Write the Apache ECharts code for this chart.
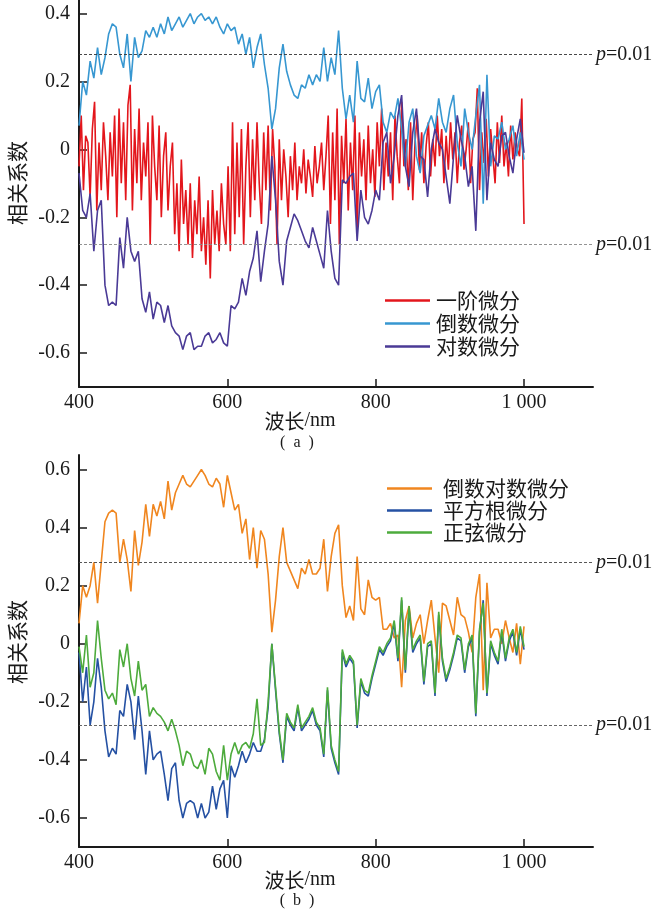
<!DOCTYPE html>
<html>
<head>
<meta charset="utf-8">
<script src="https://cdn.jsdelivr.net/npm/echarts@6/dist/echarts.min.js"></script>
<style>html,body{margin:0;padding:0;background:#fff}#c{width:656px;height:911px}</style>
</head>
<body>
<div id="c"></div>
<script>
// wavelength grids (nm)
const wavelengths = [];           // 400..1000 step 5
for (let w = 400; w <= 1000; w += 5) wavelengths.push(w);
const wavelengthsFine = [];       // 400..1000 step 3 (一阶微分)
for (let w = 400; w <= 1000; w += 3) wavelengthsFine.push(w);

const xTicks = [400, 600, 800, 1000];
const yTicksTop = [-0.6, -0.4, -0.2, 0, 0.2, 0.4];
const yTicksBottom = [-0.6, -0.4, -0.2, 0, 0.2, 0.4, 0.6];
const pLevel = 0.28;

const namesTop = ['一阶微分', '倒数微分', '对数微分'];
const namesBottom = ['倒数对数微分', '平方根微分', '正弦微分'];

// (a) 一阶微分 (step 3 nm)
const firstDeriv = [
 -0.05, 0.1, -0.12, 0.04, 0.02, -0.14, 0.06, 0.14, -0.18, 0.02,
 -0.12, 0.08, -0.02, -0.15, 0.05, -0.08, 0.1, -0.2, 0.12, -0.1,
 0.08, -0.15, 0.13, 0.19, -0.18, 0.06, -0.1, 0.12, -0.15, 0.02,
 -0.08, 0.08, -0.28, 0.1, -0.05, -0.15, 0.07, -0.2, -0.02, 0.05,
 -0.18, -0.05, 0.02, -0.25, -0.1, -0.3, -0.03, -0.22, -0.12, -0.28,
 -0.1, -0.32, -0.15, -0.25, -0.08, -0.3, -0.2, -0.34, -0.15, -0.38,
 -0.12, -0.28, -0.18, -0.3, -0.1, -0.22, -0.28, -0.05, -0.3, 0.08,
 -0.25, 0.02, -0.2, 0.06, -0.28, -0.05, 0.08, -0.2, 0.03, -0.15,
 0.08, -0.1, -0.22, 0.05, -0.12, 0.07, -0.18, 0.06, -0.05, -0.28,
 0.03, -0.15, 0.0, -0.08, -0.2, -0.02, -0.12, 0.02, -0.15, -0.05,
 -0.1, 0.0, -0.13, -0.03, -0.08, -0.14, 0.01, -0.1, -0.05, 0.02,
 -0.12, -0.02, 0.1, -0.22, 0.05, -0.15, 0.12, -0.28, 0.04, -0.1,
 0.09, -0.18, 0.02, -0.12, 0.1, -0.25, 0.05, -0.08, 0.03, -0.15,
 0.07, -0.1, 0.0, -0.14, 0.08, -0.05, 0.12, -0.12, 0.02, -0.08,
 0.05, -0.15, 0.1, -0.02, -0.1, 0.14, -0.05, 0.03, -0.12, 0.08,
 -0.15, 0.02, 0.1, -0.06, 0.05, -0.1, 0.01, 0.08, -0.08, 0.03,
 -0.05, 0.1, -0.02, 0.06, -0.1, 0.04, -0.06, 0.08, -0.03, 0.05,
 -0.1, 0.02, 0.07, -0.06, 0.0, 0.08, -0.1, 0.03, 0.05, 0.18,
 -0.12, 0.05, -0.04, 0.09, -0.08, 0.06, -0.02, -0.1, 0.08, -0.04,
 0.1, -0.05, 0.02, -0.08, 0.07, -0.03, 0.05, 0.0, -0.02, 0.15,
 -0.22
];
// (a) 倒数微分
const reciprocalDeriv = [
 0.07, 0.2, 0.16, 0.26, 0.21, 0.3, 0.22, 0.27, 0.34, 0.37,
 0.36, 0.28, 0.24, 0.34, 0.2, 0.33, 0.27, 0.29, 0.35, 0.33,
 0.36, 0.33, 0.37, 0.34, 0.39, 0.35, 0.37, 0.39, 0.36, 0.38,
 0.4, 0.37, 0.39, 0.4, 0.38, 0.39, 0.37, 0.39, 0.36, 0.34,
 0.37, 0.35, 0.36, 0.31, 0.34, 0.28, 0.33, 0.24, 0.3, 0.34,
 0.25, 0.18, 0.06, 0.12, 0.24, 0.31, 0.23, 0.19, 0.16, 0.15,
 0.19, 0.18, 0.22, 0.19, 0.22, 0.2, 0.3, 0.2, 0.27, 0.22,
 0.35, 0.18, 0.09, 0.16, 0.08, 0.26, 0.15, 0.14, 0.21, 0.12,
 0.17, 0.19, 0.08, 0.05, 0.11, 0.09, 0.15, 0.06, -0.05, 0.08,
 0.12, -0.02, -0.07, 0.04, 0.07, 0.1, 0.06, 0.15, 0.08, 0.05,
 0.12, 0.16, 0.02, -0.05, 0.12, 0.05, 0.0, 0.1, 0.19, -0.16,
 0.22, -0.05, 0.04, 0.03, 0.08, 0.0, 0.03, 0.07, -0.02, 0.05,
 -0.03
];
// (a) 对数微分
const logDeriv = [
 -0.07, -0.18, -0.2, -0.13, -0.3, -0.18, -0.15, -0.4, -0.46, -0.45,
 -0.46, -0.26, -0.35, -0.2, -0.3, -0.33, -0.3, -0.44, -0.48, -0.42,
 -0.5, -0.45, -0.46, -0.51, -0.46, -0.52, -0.54, -0.55, -0.59, -0.55,
 -0.54, -0.59, -0.58, -0.58, -0.55, -0.54, -0.57, -0.56, -0.54, -0.57,
 -0.58, -0.46, -0.47, -0.45, -0.38, -0.43, -0.36, -0.32, -0.24, -0.39,
 -0.3, -0.22, -0.02, -0.15, -0.33, -0.4, -0.27, -0.23, -0.19, -0.21,
 -0.24, -0.27, -0.29, -0.23, -0.27, -0.31, -0.35, -0.18, -0.3, -0.38,
 -0.4, -0.09, -0.1, -0.08, -0.07, -0.27, -0.12, -0.2, -0.22, -0.18,
 -0.12, -0.15, 0.02, 0.05, -0.1, -0.02, 0.1, 0.16, -0.05, -0.11,
 0.05, 0.12, -0.02, -0.03, -0.14, 0.0, 0.06, 0.02, 0.0, -0.08,
 -0.16, -0.02, 0.1, 0.03, -0.02, -0.11, -0.05, -0.24, 0.08, 0.17,
 -0.15, 0.02, -0.03, -0.05, 0.04, 0.05, -0.02, -0.07, 0.03, 0.09,
 -0.01
];
// (b) 倒数对数微分
const recipLogDeriv = [
 0.07, 0.2, 0.16, 0.2, 0.28, 0.14, 0.28, 0.42, 0.45, 0.46,
 0.45, 0.28, 0.36, 0.29, 0.18, 0.39, 0.27, 0.35, 0.48, 0.37,
 0.48, 0.44, 0.49, 0.43, 0.56, 0.46, 0.52, 0.55, 0.58, 0.55,
 0.54, 0.56, 0.58, 0.6, 0.58, 0.55, 0.54, 0.57, 0.55, 0.47,
 0.58, 0.52, 0.46, 0.48, 0.38, 0.43, 0.29, 0.4, 0.26, 0.39,
 0.36, 0.24, 0.04, 0.15, 0.3, 0.4, 0.28, 0.25, 0.22, 0.19,
 0.26, 0.24, 0.29, 0.24, 0.24, 0.26, 0.36, 0.18, 0.3, 0.38,
 0.41, 0.2, 0.09, 0.13, 0.08, 0.3, 0.12, 0.1, 0.22, 0.16,
 0.15, 0.16, 0.05, 0.05, 0.07, 0.02, 0.03, -0.15, 0.08, 0.13,
 0.02, 0.07, 0.1, 0.0, 0.08, 0.15, 0.02, -0.1, 0.14, 0.13,
 0.08, 0.03, 0.16, 0.1, 0.09, 0.04, -0.03, 0.16, 0.24, -0.16,
 0.21, 0.02, 0.05, 0.05, 0.0, 0.08, 0.02, -0.03, 0.07, -0.07,
 0.06
];
// (b) 平方根微分
const sqrtDeriv = [
 -0.03, -0.2, -0.08, -0.28, -0.2, -0.05, -0.15, -0.3, -0.39, -0.36,
 -0.38, -0.23, -0.25, -0.14, -0.2, -0.33, -0.18, -0.3, -0.45, -0.3,
 -0.4, -0.38, -0.37, -0.45, -0.54, -0.43, -0.41, -0.54, -0.6, -0.55,
 -0.54, -0.55, -0.6, -0.55, -0.6, -0.58, -0.49, -0.57, -0.5, -0.47,
 -0.6, -0.42, -0.46, -0.42, -0.37, -0.41, -0.38, -0.34, -0.37, -0.37,
 -0.33, -0.22, 0.0, -0.16, -0.31, -0.41, -0.25, -0.28, -0.3, -0.22,
 -0.3, -0.28, -0.26, -0.23, -0.28, -0.3, -0.39, -0.16, -0.36, -0.41,
 -0.45, -0.03, -0.08, -0.05, -0.07, -0.29, -0.13, -0.17, -0.18, -0.12,
 -0.07, -0.02, -0.04, -0.01, 0.01, 0.07, -0.06, 0.15, -0.1, 0.12,
 -0.03, 0.0, 0.02, -0.14, -0.01, 0.0, -0.18, 0.1, -0.06, -0.13,
 -0.09, -0.04, 0.02, 0.01, -0.1, -0.01, 0.02, -0.25, 0.04, 0.15,
 -0.18, 0.0, -0.04, -0.07, 0.04, -0.06, 0.01, 0.04, -0.04, 0.05,
 -0.02
];
// (b) 正弦微分
const sineDeriv = [
 -0.01, -0.1, 0.03, -0.15, -0.1, 0.08, -0.05, -0.16, -0.19, -0.17,
 -0.21, -0.02, -0.08, 0.0, -0.12, -0.18, -0.06, -0.16, -0.14, -0.25,
 -0.22, -0.24, -0.25, -0.27, -0.3, -0.26, -0.3, -0.35, -0.42, -0.37,
 -0.38, -0.42, -0.43, -0.4, -0.45, -0.36, -0.38, -0.44, -0.47, -0.35,
 -0.47, -0.38, -0.34, -0.38, -0.35, -0.34, -0.36, -0.31, -0.19, -0.35,
 -0.34, -0.2, 0.0, -0.15, -0.3, -0.4, -0.24, -0.27, -0.29, -0.21,
 -0.29, -0.27, -0.25, -0.22, -0.27, -0.29, -0.38, -0.15, -0.35, -0.4,
 -0.44, -0.02, -0.07, -0.04, -0.06, -0.28, -0.12, -0.16, -0.17, -0.11,
 -0.06, -0.01, -0.03, 0.0, 0.02, 0.08, -0.05, 0.16, -0.09, 0.13,
 -0.02, 0.01, 0.03, -0.13, 0.0, 0.01, -0.17, 0.11, -0.05, -0.12,
 -0.08, -0.03, 0.03, 0.02, -0.09, 0.0, 0.03, -0.24, 0.05, 0.14,
 -0.17, 0.01, -0.03, -0.06, 0.05, -0.05, 0.02, 0.05, -0.03, 0.06,
 -0.01
];

const pair = (xs, arr) => arr.map((v, i) => [xs[i], v]);
const serif = "'Liberation Serif', 'Times New Roman', serif";
const cjk = "'Noto Sans CJK SC', sans-serif";
const ink = '#1a1a1a';

function xAxisCfg(gi) {
  return {
    type: 'value', gridIndex: gi, min: 400, max: 1093,
    axisLine: { show: true, onZero: false, lineStyle: { color: ink, width: 2 } },
    axisTick: { show: true, inside: true, length: 8, customValues: xTicks, lineStyle: { color: ink, width: 1.5 } },
    axisLabel: { customValues: xTicks, margin: 6, fontSize: 20, fontFamily: serif, color: ink,
      formatter: v => (v === 1000 ? '1 000' : String(v)) },
    splitLine: { show: false }
  };
}
function yAxisCfg(gi, min, max, ticks) {
  return {
    type: 'value', gridIndex: gi, min: min, max: max,
    axisLine: { show: true, onZero: false, lineStyle: { color: ink, width: 2 } },
    axisTick: { show: true, inside: true, length: 8, customValues: ticks, lineStyle: { color: ink, width: 1.5 } },
    axisLabel: { customValues: ticks, margin: 9, fontSize: 20, fontFamily: serif, color: ink,
      formatter: v => (Math.abs(v) < 1e-9 ? '0' : v.toFixed(1)) },
    splitLine: { show: false }
  };
}
function pLines(upColor, lowColor) {
  const lbl = { show: true, position: 'end', distance: 3, formatter: '{i|p}=0.01',
    fontSize: 20, fontFamily: serif, color: ink,
    rich: { i: { fontStyle: 'italic', fontSize: 20, fontFamily: serif, color: ink } } };
  return {
    silent: true, symbol: ['none', 'none'], animation: false,
    label: lbl,
    data: [
      { yAxis: pLevel, lineStyle: { color: upColor, type: [3, 2], width: 0.9 } },
      { yAxis: -pLevel, lineStyle: { color: lowColor, type: [3, 2], width: 0.9 } }
    ]
  };
}
function line(name, xs, data, color, xi, extra) {
  return Object.assign({
    name: name, type: 'line', xAxisIndex: xi, yAxisIndex: xi, data: pair(xs, data),
    symbol: 'none', showSymbol: false, smooth: false, animation: false,
    lineStyle: { color: color, width: 1.6 }, itemStyle: { color: color }
  }, extra || {});
}
const legendBase = {
  orient: 'vertical', icon: 'rect', itemWidth: 45, itemHeight: 2.5, selectedMode: false
};

const chart = echarts.init(document.getElementById('c'), null, { renderer: 'canvas' });
chart.setOption({
  backgroundColor: '#fff',
  animation: false,
  grid: [
    { left: 79, right: 63, top: 0, height: 387 },
    { left: 79, right: 63, top: 455, height: 392 }
  ],
  xAxis: [xAxisCfg(0), xAxisCfg(1)],
  yAxis: [yAxisCfg(0, -0.7, 0.44, yTicksTop), yAxisCfg(1, -0.7, 0.65, yTicksBottom)],
  legend: [
    Object.assign({}, legendBase, { data: namesTop, left: 380, top: 285, itemGap: 2,
      textStyle: { fontSize: 21, fontFamily: cjk, color: ink, padding: [0, 0, 0, 1] } }),
    Object.assign({}, legendBase, { data: namesBottom, left: 382, top: 473, itemGap: 1,
      textStyle: { fontSize: 21, fontFamily: cjk, color: ink, padding: [0, 0, 0, 6] } })
  ],
  graphic: [
    { type: 'text', x: 17, y: 183, rotation: Math.PI / 2,
      style: { text: '相关系数', font: "21px 'Noto Sans CJK SC'", fill: ink, align: 'center', verticalAlign: 'middle' } },
    { type: 'text', x: 17, y: 642, rotation: Math.PI / 2,
      style: { text: '相关系数', font: "21px 'Noto Sans CJK SC'", fill: ink, align: 'center', verticalAlign: 'middle' } },
    { type: 'text', x: 300, y: 421,
      style: { text: '{c|波长}{s|/nm}', align: 'center', verticalAlign: 'middle', fill: ink,
        rich: { c: { fontFamily: cjk, fontSize: 20, fill: ink }, s: { fontFamily: serif, fontSize: 20, fill: ink } } } },
    { type: 'text', x: 297, y: 443,
      style: { text: '(  a  )', font: "16px 'Liberation Serif'", fill: ink, align: 'center', verticalAlign: 'middle' } },
    { type: 'text', x: 300, y: 880,
      style: { text: '{c|波长}{s|/nm}', align: 'center', verticalAlign: 'middle', fill: ink,
        rich: { c: { fontFamily: cjk, fontSize: 20, fill: ink }, s: { fontFamily: serif, fontSize: 20, fill: ink } } } },
    { type: 'text', x: 297, y: 901,
      style: { text: '(  b  )', font: "16px 'Liberation Serif'", fill: ink, align: 'center', verticalAlign: 'middle' } }
  ],
  series: [
    line(namesTop[0], wavelengthsFine, firstDeriv, '#e3161c', 0, { markLine: pLines('#333', '#888') }),
    line(namesTop[1], wavelengths, reciprocalDeriv, '#3797d1', 0),
    line(namesTop[2], wavelengths, logDeriv, '#4a3a96', 0),
    line(namesBottom[0], wavelengths, recipLogDeriv, '#f0861f', 1, { markLine: pLines('#444', '#555') }),
    line(namesBottom[1], wavelengths, sqrtDeriv, '#2551a3', 1),
    line(namesBottom[2], wavelengths, sineDeriv, '#4dab3c', 1)
  ]
});
</script>
</body>
</html>
